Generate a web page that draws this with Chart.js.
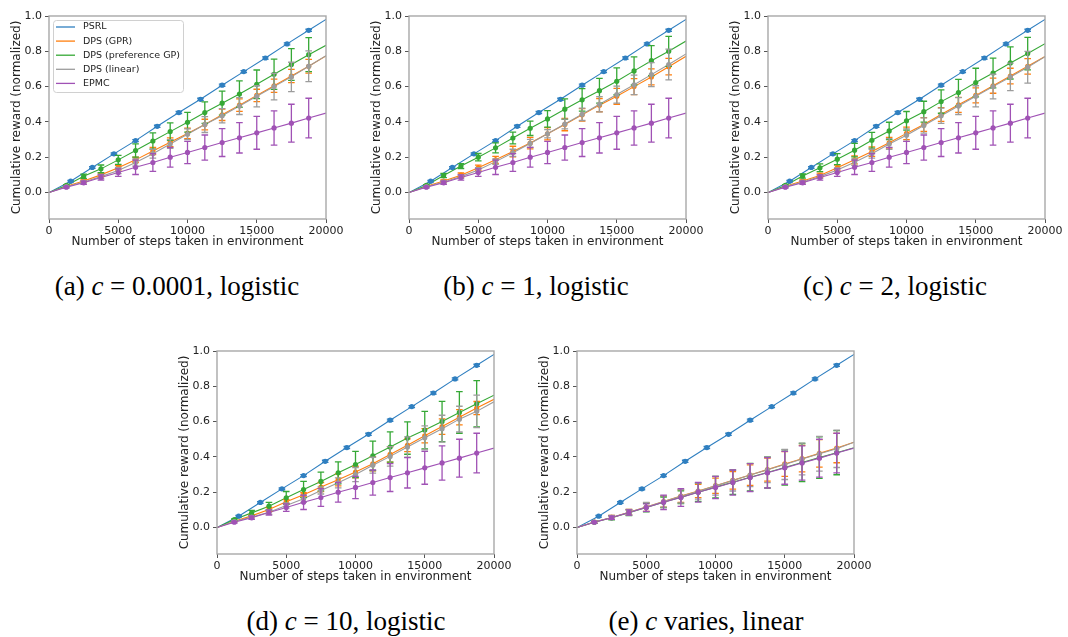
<!DOCTYPE html>
<html>
<head>
<meta charset="utf-8">
<script src="https://cdn.jsdelivr.net/npm/chart.js@4.4.1/dist/chart.umd.min.js"></script>
<style>
  body { margin: 0; background: #fff; width: 1068px; height: 637px; position: relative; overflow: hidden; }
  canvas { position: absolute; }
  .caption {
    position: absolute;
    font-family: "Liberation Serif", "Times New Roman", serif;
    font-size: 27px;
    color: #000;
    white-space: nowrap;
    transform: translate(-50%, -50%);
  }
</style>
</head>
<body>
<canvas id="chart-a" width="348" height="247" style="left:0px;top:6px"></canvas>
<canvas id="chart-b" width="348" height="247" style="left:360px;top:6px"></canvas>
<canvas id="chart-c" width="348" height="247" style="left:719px;top:6px"></canvas>
<canvas id="chart-d" width="348" height="247" style="left:168px;top:341px"></canvas>
<canvas id="chart-e" width="348" height="247" style="left:528px;top:341px"></canvas>

<div class="caption" style="left:177px;top:286px">(a) <i>c</i> = 0.0001, logistic</div>
<div class="caption" style="left:536px;top:286px">(b) <i>c</i> = 1, logistic</div>
<div class="caption" style="left:895px;top:286px">(c) <i>c</i> = 2, logistic</div>
<div class="caption" style="left:346px;top:621px">(d) <i>c</i> = 10, logistic</div>
<div class="caption" style="left:706px;top:621px">(e) <i>c</i> varies, linear</div>

<script>
// x positions of the error bar markers
const steps = [1250, 2500, 3750, 5000, 6250, 7500, 8750, 10000, 11250, 12500, 13750, 15000, 16250, 17500, 18750];
const psrlSteps = [1562.5, 3125, 4687.5, 6250, 7812.5, 9375, 10937.5, 12500, 14062.5, 15625, 17187.5, 18750];
const xTicks = [0, 5000, 10000, 15000, 20000];
const yTicks = [0, 0.2, 0.4, 0.6, 0.8, 1.0];
const labels = ["PSRL", "DPS (GPR)", "DPS (preference GP)", "DPS (linear)", "EPMC"];
const colors = ["#2f7fc0", "#ff7f0e", "#35a835", "#9c9c9c", "#a052b5"];

// PSRL (same in every panel)
const psrlMean = [0.064, 0.142, 0.219, 0.294, 0.375, 0.453, 0.528, 0.608, 0.685, 0.762, 0.842, 0.919];
const psrlErr = [0.005, 0.005, 0.005, 0.006, 0.006, 0.006, 0.006, 0.006, 0.006, 0.006, 0.006, 0.006];
const psrlEnd = 0.981;

// EPMC (same in every panel)
const epmcMean = [0.03, 0.055, 0.085, 0.113, 0.143, 0.17, 0.2, 0.227, 0.255, 0.283, 0.31, 0.338, 0.366, 0.393, 0.422];
const epmcErr = [0.005, 0.009, 0.015, 0.021, 0.041, 0.05, 0.056, 0.063, 0.071, 0.079, 0.086, 0.093, 0.097, 0.107, 0.112];
const epmcEnd = 0.45;

// (a) c = 0.0001
const gprMeanA = [0.035, 0.065, 0.1, 0.14, 0.185, 0.235, 0.285, 0.335, 0.385, 0.44, 0.495, 0.55, 0.605, 0.66, 0.715];
const gprErrA = [0.003, 0.006, 0.01, 0.0135, 0.015, 0.02, 0.025, 0.03, 0.03, 0.032, 0.035, 0.035, 0.0375, 0.0375, 0.039];
const prefMeanA = [0.04, 0.092, 0.134, 0.185, 0.238, 0.292, 0.345, 0.398, 0.453, 0.506, 0.558, 0.613, 0.67, 0.725, 0.781];
const prefErrA = [0.004, 0.012, 0.022, 0.025, 0.038, 0.046, 0.049, 0.056, 0.061, 0.068, 0.075, 0.081, 0.086, 0.09, 0.096];
const linMeanA = [0.033, 0.06, 0.09, 0.125, 0.17, 0.22, 0.275, 0.33, 0.385, 0.435, 0.49, 0.545, 0.6, 0.655, 0.715];
const linErrA = [0.003, 0.006, 0.012, 0.018, 0.02, 0.025, 0.025, 0.03, 0.045, 0.04, 0.048, 0.06, 0.075, 0.083, 0.087];
const endsA = [0.774, 0.834, 0.775];

// (b) c = 1
const gprMeanB = [0.035, 0.065, 0.098, 0.14, 0.185, 0.232, 0.28, 0.333, 0.385, 0.44, 0.495, 0.545, 0.6, 0.655, 0.713];
const gprErrB = [0.003, 0.006, 0.0125, 0.015, 0.02, 0.03, 0.0325, 0.035, 0.035, 0.035, 0.0375, 0.045, 0.045, 0.045, 0.047];
const prefMeanB = [0.04, 0.096, 0.15, 0.2, 0.253, 0.309, 0.364, 0.417, 0.472, 0.525, 0.577, 0.63, 0.689, 0.747, 0.8];
const prefErrB = [0.004, 0.012, 0.014, 0.021, 0.028, 0.033, 0.041, 0.047, 0.058, 0.064, 0.07, 0.076, 0.08, 0.085, 0.085];
const linMeanB = [0.033, 0.06, 0.09, 0.128, 0.175, 0.225, 0.278, 0.333, 0.388, 0.443, 0.5, 0.555, 0.61, 0.668, 0.725];
const linErrB = [0.003, 0.006, 0.01, 0.013, 0.015, 0.02, 0.023, 0.023, 0.028, 0.035, 0.043, 0.048, 0.055, 0.068, 0.087];
const endsB = [0.772, 0.858, 0.785];

// (c) c = 2
const gprMeanC = [0.035, 0.065, 0.097, 0.14, 0.185, 0.232, 0.282, 0.335, 0.385, 0.442, 0.497, 0.55, 0.605, 0.66, 0.715];
const gprErrC = [0.003, 0.006, 0.0125, 0.015, 0.0225, 0.027, 0.03, 0.035, 0.039, 0.039, 0.0425, 0.0425, 0.0425, 0.044, 0.044];
const prefMeanC = [0.04, 0.094, 0.14, 0.189, 0.24, 0.296, 0.349, 0.406, 0.458, 0.515, 0.566, 0.623, 0.677, 0.734, 0.787];
const prefErrC = [0.004, 0.012, 0.022, 0.031, 0.038, 0.045, 0.049, 0.053, 0.059, 0.066, 0.075, 0.081, 0.084, 0.091, 0.092];
const linMeanC = [0.033, 0.06, 0.09, 0.128, 0.172, 0.22, 0.275, 0.325, 0.38, 0.435, 0.49, 0.545, 0.6, 0.655, 0.71];
const linErrC = [0.003, 0.006, 0.01, 0.012, 0.018, 0.025, 0.03, 0.035, 0.043, 0.043, 0.048, 0.06, 0.07, 0.078, 0.09];
const endsC = [0.77, 0.843, 0.77];

// (d) c = 10
const gprMeanD = [0.036, 0.066, 0.102, 0.146, 0.185, 0.229, 0.27, 0.314, 0.361, 0.414, 0.466, 0.52, 0.572, 0.625, 0.677];
const gprErrD = [0.003, 0.006, 0.012, 0.012, 0.012, 0.026, 0.034, 0.033, 0.04, 0.044, 0.036, 0.04, 0.044, 0.043, 0.037];
const prefMeanD = [0.045, 0.083, 0.121, 0.168, 0.215, 0.261, 0.31, 0.357, 0.406, 0.456, 0.507, 0.552, 0.601, 0.652, 0.701];
const prefErrD = [0.004, 0.014, 0.022, 0.036, 0.046, 0.053, 0.062, 0.074, 0.083, 0.086, 0.092, 0.106, 0.114, 0.118, 0.131];
const linMeanD = [0.034, 0.059, 0.087, 0.125, 0.163, 0.21, 0.253, 0.3, 0.353, 0.403, 0.456, 0.508, 0.56, 0.614, 0.658];
const linErrD = [0.003, 0.006, 0.012, 0.015, 0.02, 0.02, 0.028, 0.04, 0.045, 0.055, 0.058, 0.068, 0.076, 0.073, 0.092];
const endsD = [0.726, 0.75, 0.712];

// (e) c varies, linear
const gprMeanE = [0.031, 0.057, 0.087, 0.116, 0.147, 0.178, 0.207, 0.237, 0.267, 0.297, 0.328, 0.36, 0.39, 0.42, 0.45];
const gprErrE = [0.006, 0.011, 0.015, 0.025, 0.031, 0.035, 0.038, 0.043, 0.05, 0.058, 0.065, 0.07, 0.075, 0.078, 0.083];
const prefMeanE = [0.03, 0.055, 0.084, 0.113, 0.143, 0.172, 0.2, 0.229, 0.257, 0.285, 0.312, 0.34, 0.368, 0.396, 0.424];
const prefErrE = [0.006, 0.012, 0.016, 0.024, 0.03, 0.036, 0.052, 0.061, 0.069, 0.078, 0.088, 0.1, 0.108, 0.118, 0.125];
const linMeanE = [0.031, 0.057, 0.087, 0.116, 0.147, 0.177, 0.206, 0.236, 0.266, 0.297, 0.327, 0.357, 0.388, 0.418, 0.446];
const linErrE = [0.006, 0.011, 0.016, 0.026, 0.032, 0.038, 0.045, 0.053, 0.059, 0.065, 0.073, 0.085, 0.09, 0.098, 0.106];
const endsE = [0.483, 0.452, 0.483];

const tickFont = { family: "DejaVu Sans", size: 11 };
const titleFont = { family: "DejaVu Sans", size: 12 };

// line from the origin through the marker points to the right edge
function linePoints(xs, ys, end) {
    let pts = [{ x: 0, y: 0 }];
    for (let i = 0; i < xs.length; i++) pts.push({ x: xs[i], y: ys[i] });
    pts.push({ x: 20000, y: end });
    return pts;
}

function makeSeries(gprMean, gprErr, prefMean, prefErr, linMean, linErr, ends) {
    const rows = [
        [psrlSteps, psrlMean, psrlErr, psrlEnd],
        [steps, gprMean, gprErr, ends[0]],
        [steps, prefMean, prefErr, ends[1]],
        [steps, linMean, linErr, ends[2]],
        [steps, epmcMean, epmcErr, epmcEnd]
    ];
    return rows.map((r, i) => ({
        label: labels[i],
        data: linePoints(r[0], r[1], r[3]),
        borderColor: colors[i],
        backgroundColor: colors[i],
        borderWidth: 1.1,
        pointRadius: 0,
        tension: 0,
        order: 4 - i,
        barSteps: r[0],
        barMean: r[1],
        barErr: r[2]
    }));
}

// error bars with caps and a dot at the mean
const errorBars = {
    id: "errorBars",
    afterDatasetsDraw(chart) {
        const ctx = chart.ctx;
        const xs = chart.scales.x;
        const ys = chart.scales.y;
        chart.data.datasets.forEach(ds => {
            ctx.save();
            ctx.strokeStyle = ds.borderColor;
            ctx.fillStyle = ds.borderColor;
            ctx.lineWidth = 1.3;
            for (let i = 0; i < ds.barSteps.length; i++) {
                const px = xs.getPixelForValue(ds.barSteps[i]);
                const top = ys.getPixelForValue(ds.barMean[i] + ds.barErr[i]);
                const bot = ys.getPixelForValue(ds.barMean[i] - ds.barErr[i]);
                ctx.beginPath();
                ctx.moveTo(px, top); ctx.lineTo(px, bot);
                ctx.moveTo(px - 3.3, top); ctx.lineTo(px + 3.3, top);
                ctx.moveTo(px - 3.3, bot); ctx.lineTo(px + 3.3, bot);
                ctx.stroke();
                ctx.beginPath();
                ctx.arc(px, ys.getPixelForValue(ds.barMean[i]), 2.6, 0, Math.PI * 2);
                ctx.fill();
            }
            ctx.restore();
        });
    }
};

// axes frame on all four sides
const frame = {
    id: "frame",
    afterDraw(chart) {
        const a = chart.chartArea;
        const ctx = chart.ctx;
        ctx.save();
        ctx.strokeStyle = "#a8a8a8";
        ctx.lineWidth = 1.4;
        ctx.strokeRect(a.left, a.top, a.right - a.left, a.bottom - a.top);
        ctx.restore();
    }
};

// legend box in the upper left corner
const cornerLegend = {
    id: "cornerLegend",
    afterDraw(chart) {
        const ctx = chart.ctx;
        ctx.save();
        ctx.fillStyle = "rgba(255,255,255,0.85)";
        ctx.strokeStyle = "#d0d0d0";
        ctx.lineWidth = 1;
        ctx.beginPath();
        ctx.roundRect(53.5, 14.5, 130, 72, 3);
        ctx.fill();
        ctx.stroke();
        ctx.font = "9.5px 'DejaVu Sans'";
        ctx.textBaseline = "middle";
        chart.data.datasets.forEach((ds, i) => {
            const y = 21 + i * 14.1;
            ctx.strokeStyle = ds.borderColor;
            ctx.lineWidth = 1.3;
            ctx.beginPath();
            ctx.moveTo(56, y);
            ctx.lineTo(75, y);
            ctx.stroke();
            ctx.fillStyle = "#222";
            ctx.fillText(ds.label, 83, y);
        });
        ctx.restore();
    }
};

function drawPanel(id, datasets, withLegend) {
    const plugins = [errorBars, frame];
    if (withLegend) plugins.push(cornerLegend);
    new Chart(document.getElementById(id), {
        type: "line",
        data: { datasets: datasets },
        plugins: plugins,
        options: {
            responsive: false,
            animation: false,
            layout: { padding: { top: 10, right: 22, left: 0, bottom: 0 } },
            plugins: { legend: { display: false }, tooltip: { enabled: false } },
            scales: {
                x: {
                    type: "linear",
                    min: 0,
                    max: 20000,
                    afterBuildTicks: (axis) => { axis.ticks = xTicks.map(v => ({ value: v })); },
                    afterFit: (axis) => { axis.height = 34; },
                    border: { display: false },
                    grid: { drawOnChartArea: false, drawTicks: true, tickLength: 4, tickColor: "#555" },
                    ticks: { font: tickFont, color: "#222", padding: 2, maxRotation: 0, callback: v => String(v) },
                    title: {
                        display: true,
                        text: "Number of steps taken in environment",
                        font: titleFont,
                        color: "#222",
                        padding: { top: 0, bottom: 4 }
                    }
                },
                y: {
                    min: -0.15,
                    max: 1.0,
                    afterBuildTicks: (axis) => { axis.ticks = yTicks.map(v => ({ value: v })); },
                    afterFit: (axis) => { axis.width = 49; },
                    border: { display: false },
                    grid: { drawOnChartArea: false, drawTicks: true, tickLength: 4, tickColor: "#555" },
                    ticks: { font: tickFont, color: "#222", padding: 3, callback: v => v.toFixed(1) },
                    title: {
                        display: true,
                        text: "Cumulative reward (normalized)",
                        font: titleFont,
                        color: "#222",
                        padding: { top: 10, bottom: 0 }
                    }
                }
            }
        }
    });
}

drawPanel("chart-a", makeSeries(gprMeanA, gprErrA, prefMeanA, prefErrA, linMeanA, linErrA, endsA), true);
drawPanel("chart-b", makeSeries(gprMeanB, gprErrB, prefMeanB, prefErrB, linMeanB, linErrB, endsB), false);
drawPanel("chart-c", makeSeries(gprMeanC, gprErrC, prefMeanC, prefErrC, linMeanC, linErrC, endsC), false);
drawPanel("chart-d", makeSeries(gprMeanD, gprErrD, prefMeanD, prefErrD, linMeanD, linErrD, endsD), false);
drawPanel("chart-e", makeSeries(gprMeanE, gprErrE, prefMeanE, prefErrE, linMeanE, linErrE, endsE), false);
</script>
</body>
</html>
